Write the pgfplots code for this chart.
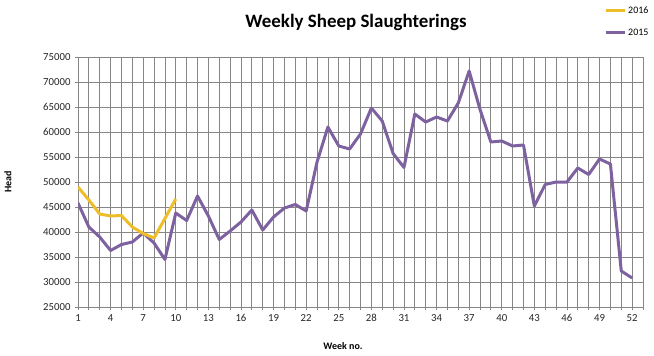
\documentclass[border=0pt]{standalone}
\usepackage{pgfplots}
\pgfplotsset{compat=1.18}
\usepackage{fontspec}
\setmainfont{Carlito}
\definecolor{purp}{RGB}{126,98,160}
\definecolor{gold}{RGB}{238,190,42}
\definecolor{gridc}{RGB}{134,134,134}
\begin{document}
\begin{tikzpicture}
\useasboundingbox (0,0) rectangle (654bp,356bp);
\begin{axis}[
  at={(78bp,49bp)}, anchor=south west,
  scale only axis, width=565bp, height=250bp,
  xmin=1, xmax=53, ymin=25000, ymax=75000,
  xtick={1,4,...,52}, minor xtick={1,...,53},
  ytick={25000,30000,...,75000},
  grid=both,
  major grid style={gridc, line width=0.8bp},
  minor grid style={gridc, line width=0.8bp},
  axis line style={gridc, line width=0.8bp},
  tick style={gridc, line width=0.8bp},
  major tick length=3bp, minor tick length=3bp,
  tick align=outside, xtick pos=bottom, ytick pos=left,
  /pgf/number format/assume math mode=true,
  /pgf/number format/1000 sep={},
  scaled y ticks=false,
  tick label style={font=\fontsize{10.8}{12}\selectfont, text=black!85},
  yticklabel style={xshift=-1bp},
  xticklabel style={yshift=-1bp},
  title={\textbf{Weekly Sheep Slaughterings}},
  title style={font=\fontsize{19}{21}\selectfont, at={(axis description cs:0.492,1.116)}, anchor=center, yshift=0pt},
  xlabel={\textbf{Week no.}},
  xlabel style={font=\fontsize{10}{11}\selectfont, at={(axis description cs:0.469,-0.158)}, anchor=center},
  ylabel={\textbf{Head}},
  ylabel style={font=\fontsize{10}{11}\selectfont, at={(axis description cs:-0.124,0.5)}, anchor=center},
  legend style={at={(axis description cs:0.931,1.21)}, anchor=north west, draw=none, fill=none,
    font=\fontsize{10}{11}\selectfont, row sep=10bp, inner sep=0pt, cells={anchor=west}},
  legend image code/.code={\draw[#1, line width=3bp] (0bp,0bp) -- (19bp,0bp);},
  reverse legend,
]
\addplot[purp, line width=3bp, line join=round] coordinates {
(1,45800) (2,41000) (3,39000) (4,36300) (5,37500) (6,38000) (7,39800) (8,37800) (9,34500) (10,43800)
(11,42300) (12,47200) (13,43200) (14,38500) (15,40200) (16,42000) (17,44400) (18,40400) (19,43000) (20,44800)
(21,45500) (22,44200) (23,54000) (24,61000) (25,57200) (26,56600) (27,59600) (28,64800) (29,62200) (30,55700)
(31,52900) (32,63600) (33,62000) (34,63000) (35,62200) (36,65800) (37,72200) (38,64500) (39,58000) (40,58200)
(41,57200) (42,57400) (43,45200) (44,49500) (45,50000) (46,50000) (47,52800) (48,51500) (49,54600) (50,53600)
(51,32200) (52,30800)
};
\addlegendentry{2015}
\addplot[gold, line width=3bp, line join=round] coordinates {
(1,49000) (2,46400) (3,43600) (4,43200) (5,43300) (6,41000) (7,39700) (8,38800) (9,42700) (10,46600)
};
\addlegendentry{2016}
\end{axis}
\end{tikzpicture}
\end{document}
